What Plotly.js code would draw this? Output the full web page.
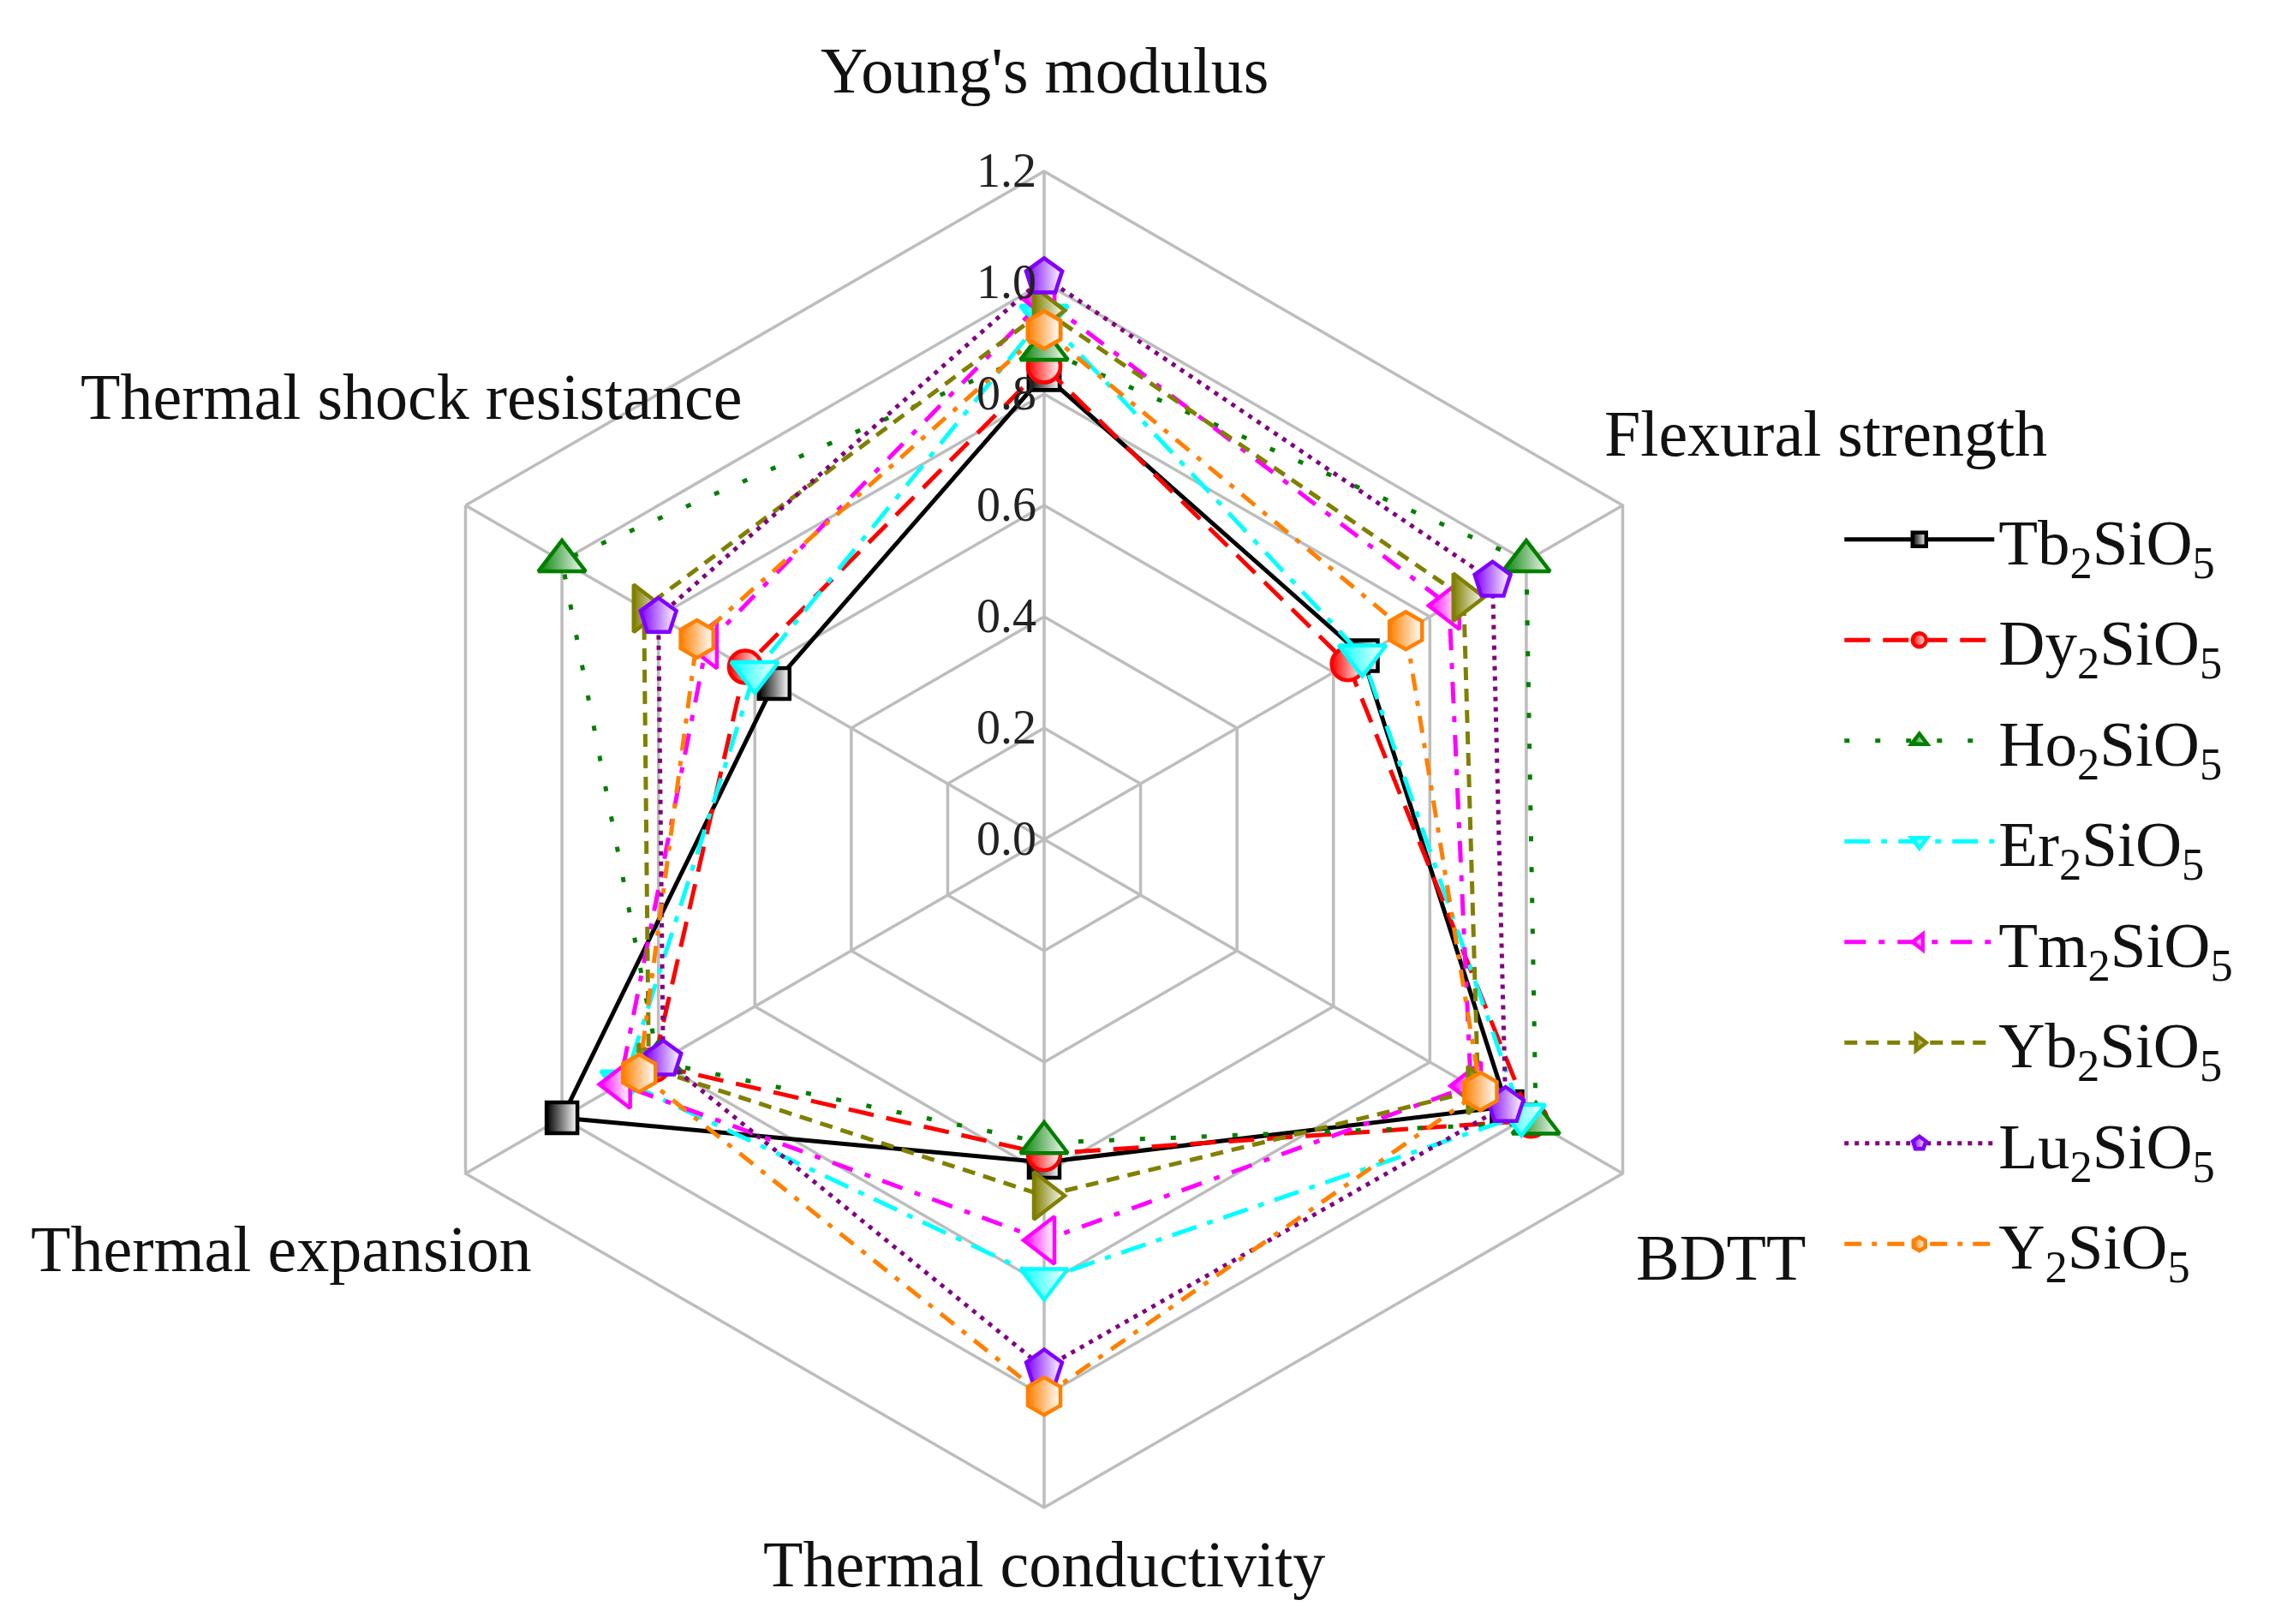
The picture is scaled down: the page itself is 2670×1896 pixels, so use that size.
<!DOCTYPE html>
<html>
<head>
<meta charset="utf-8">
<script src="https://cdn.plot.ly/plotly-3.0.1.min.js"></script>
<style>html,body{margin:0;padding:0;background:#fff;}#chart{width:2670px;height:1896px;}</style>
</head>
<body>
<div id="chart"></div>
<script>
// Categories (clockwise from top)
const categories = ["Young's modulus", "Flexural strength", "BDTT", "Thermal conductivity", "Thermal expansion", "Thermal shock resistance"];
// Series names
const seriesNames = ["Tb<sub>2</sub>SiO<sub>5</sub>", "Dy<sub>2</sub>SiO<sub>5</sub>", "Ho<sub>2</sub>SiO<sub>5</sub>", "Er<sub>2</sub>SiO<sub>5</sub>", "Tm<sub>2</sub>SiO<sub>5</sub>", "Yb<sub>2</sub>SiO<sub>5</sub>", "Lu<sub>2</sub>SiO<sub>5</sub>", "Y<sub>2</sub>SiO<sub>5</sub>"];
// Normalized values, in category order
const tbValues = [0.835, 0.66, 0.96, 0.58, 1.00, 0.56];
const dyValues = [0.85, 0.63, 1.01, 0.565, 0.81, 0.62];
const hoValues = [0.88, 1.00, 1.02, 0.545, 0.80, 1.00];
const erValues = [0.94, 0.66, 0.99, 0.79, 0.87, 0.60];
const tmValues = [0.97, 0.84, 0.885, 0.72, 0.88, 0.70];
const ybValues = [0.95, 0.87, 0.90, 0.64, 0.82, 0.83];
const luValues = [1.01, 0.93, 0.957, 0.95, 0.79, 0.80];
const yValues  = [0.915, 0.75, 0.905, 1.00, 0.84, 0.72];
// Radial tick values
const radialTicks = [0.0, 0.2, 0.4, 0.6, 0.8, 1.0, 1.2];

const allValues = [tbValues, dyValues, hoValues, erValues, tmValues, ybValues, luValues, yValues];

const styles = [
  {line: '#000000', marker: '#000000', symbol: 'square',         dash: 'solid',              size: 36},
  {line: '#ff0000', marker: '#ff0000', symbol: 'circle',         dash: '30px,15px',          size: 38},
  {line: '#007f00', marker: '#007f00', symbol: 'triangle-up',    dash: '6px,30px',           size: 48},
  {line: '#00ffff', marker: '#00ffff', symbol: 'triangle-down',  dash: '30px,13px,7px,13px', size: 48},
  {line: '#ff00ff', marker: '#ff00ff', symbol: 'triangle-left',  dash: '25px,15px,7px,15px', size: 48},
  {line: '#808000', marker: '#808000', symbol: 'triangle-right', dash: '15px,10px',          size: 48},
  {line: '#800080', marker: '#8000ff', symbol: 'pentagon',       dash: '5px,7px',            size: 44},
  {line: '#ff8000', marker: '#ff8000', symbol: 'hexagon',        dash: '20px,12px,6px,12px', size: 44}
];

const serif = '"Liberation Serif", "Times New Roman", serif';

const traces = allValues.map((vals, i) => ({
  type: 'scatterpolar',
  mode: 'lines+markers',
  name: seriesNames[i],
  legendgroup: 'g' + i,
  r: vals.concat([vals[0]]),
  theta: categories.concat([categories[0]]),
  line: {color: styles[i].line, width: 5, dash: styles[i].dash},
  marker: {
    symbol: styles[i].symbol,
    size: styles[i].size,
    color: styles[i].marker,
    gradient: {type: 'horizontal', color: '#ffffff'},
    line: {color: styles[i].marker, width: 4.5}
  },
  cliponaxis: false,
  hoverinfo: 'skip'
}));

// Category label positions (paper coords)
const labelPos = [
  {x: 0.4566, y: 0.957},
  {x: 0.7985, y: 0.733},
  {x: 0.7525, y: 0.226},
  {x: 0.4566, y: 0.037},
  {x: 0.1232, y: 0.231},
  {x: 0.1798, y: 0.756}
];

const annotations = categories.map((c, i) => ({
  text: c, xref: 'paper', yref: 'paper', x: labelPos[i].x, y: labelPos[i].y,
  xanchor: 'center', yanchor: 'middle', showarrow: false,
  font: {family: serif, size: 76, color: '#111'}
}));

const gridCol = '#bdbdbd';

const layout = {
  width: 2670, height: 1896,
  margin: {l: 0, r: 0, t: 0, b: 0},
  paper_bgcolor: '#ffffff',
  showlegend: true,
  font: {family: serif, color: '#111'},
  polar: {
    domain: {x: [0.16442, 0.74869], y: [0.07173, 0.89451]},
    bgcolor: '#ffffff',
    gridshape: 'linear',
    angularaxis: {
      rotation: 90, direction: 'clockwise',
      showticklabels: false, ticks: '',
      showgrid: true, gridcolor: gridCol, gridwidth: 3.5,
      showline: true, linecolor: gridCol, linewidth: 3.5
    },
    radialaxis: {
      range: [0, 1.2], tickvals: radialTicks, tickformat: '.1f',
      angle: 90, tickangle: 90, side: 'counterclockwise', showline: false, ticks: '',
      showgrid: true, gridcolor: gridCol, gridwidth: 3.5,
      tickfont: {family: serif, size: 56, color: '#222'}
    }
  },
  legend: {
    x: 0.8046, y: 0.697, xanchor: 'left', yanchor: 'top',
    font: {family: serif, size: 75, color: '#111'},
    itemwidth: 175, bgcolor: 'rgba(0,0,0,0)',
    traceorder: 'grouped', tracegroupgap: 17
  },
  annotations: annotations
};

Plotly.newPlot('chart', traces, layout, {displayModeBar: false, staticPlot: true});
</script>
</body>
</html>
